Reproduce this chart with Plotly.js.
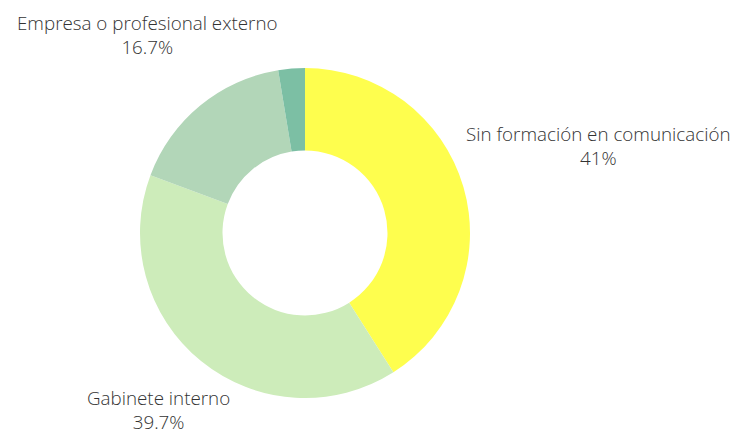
<!DOCTYPE html>
<html>
<head>
<meta charset="utf-8">
<script src="https://cdn.plot.ly/plotly-3.0.1.min.js"></script>
<style>html,body{margin:0;padding:0;background:#fff;}#chart{width:741px;height:430px;}</style>
</head>
<body>
<div id="chart"></div>
<script>
const categories = ["Sin formación en comunicación", "Gabinete interno", "Empresa o profesional externo", "Otro"];
const values = [41, 39.7, 16.7, 2.6];
const showLabel = [true, true, true, false];
const colors = ["#FEFE4E", "#CDECBA", "#B2D6B8", "#7CBFA4"];

// label anchor positions in pixels (style, not data)
const labelPos = [[598, 146], [158, 410], [147, 35], null];
const W = 741, H = 430, M = {l: 0, r: 0, t: 68, b: 32};
const plotH = H - M.t - M.b;

const annotations = [];
categories.forEach((c, i) => {
  if (!showLabel[i]) return;
  const [px, py] = labelPos[i];
  annotations.push({
    xref: "paper", yref: "paper",
    x: (px - M.l) / (W - M.l - M.r),
    y: (H - M.b - py) / plotH,
    xanchor: "center", yanchor: "middle",
    text: c + "<br>" + values[i] + "%",
    showarrow: false,
    align: "center",
    font: {family: "Open Sans", size: 18.8, color: "#333", weight: 300}
  });
});

Plotly.newPlot("chart", [{
  type: "pie",
  labels: categories,
  values: values,
  textinfo: "none",
  hole: 0.5,
  sort: false,
  direction: "clockwise",
  rotation: 0,
  marker: {colors: colors, line: {width: 0}},
  domain: {x: [0, 610/741], y: [0, 1]},
  showlegend: false
}], {
  width: W, height: H,
  margin: M,
  paper_bgcolor: "#fff",
  showlegend: false,
  annotations: annotations
}, {displayModeBar: false, staticPlot: true});
</script>
</body>
</html>
